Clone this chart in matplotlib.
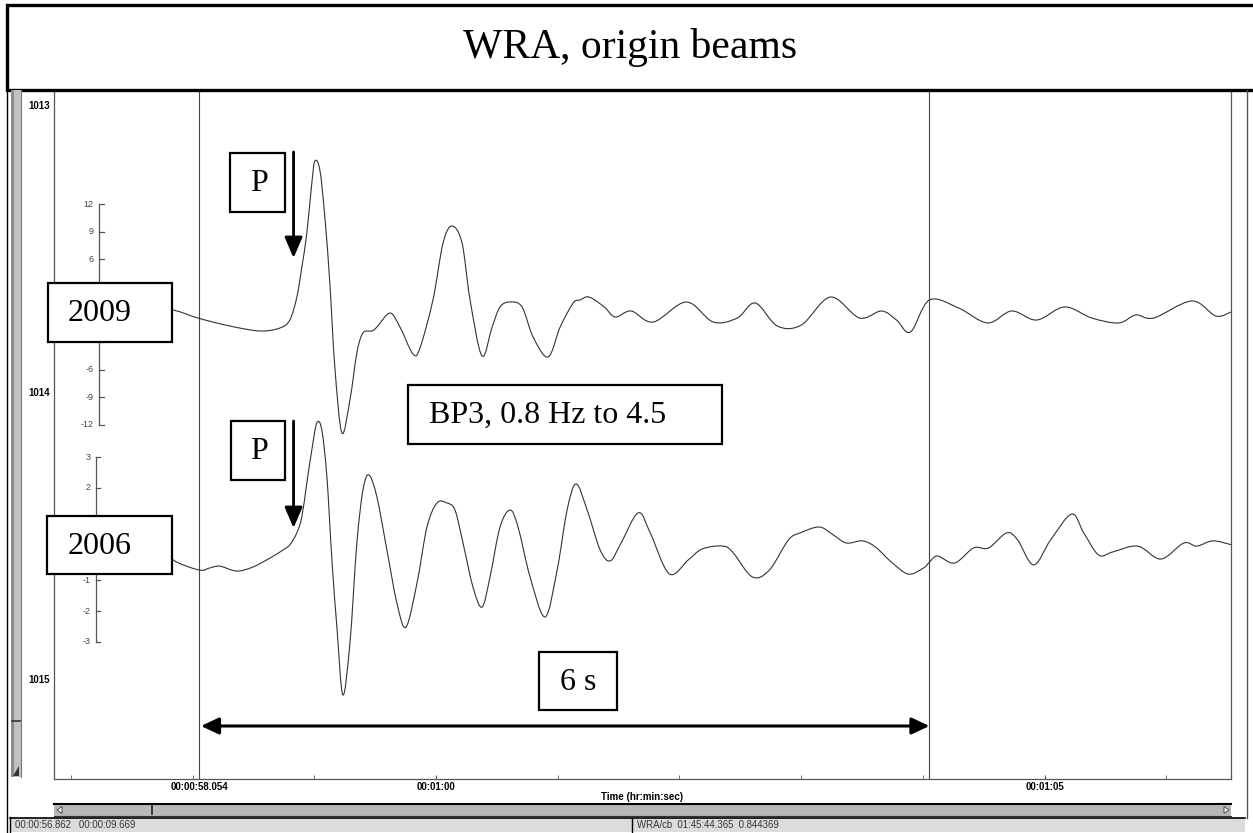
import matplotlib
matplotlib.use('Agg')
import matplotlib.pyplot as plt
from matplotlib.patches import Rectangle, Polygon, PathPatch
from matplotlib.path import Path

W, H = 1253, 833

# ---------------- data ----------------
window_start = 56.862      # s (00:00:56.862)
window_length = 9.669      # s (00:00:09.669)
time_ticks = [58.054, 60.0, 65.0]
time_tick_labels = ['00:00:58.054', '00:01:00', '00:01:05']
minor_ticks = [57, 58, 59, 61, 62, 63, 64, 66]
channel_labels = [1013, 1014, 1015]
marker_times = [58.054, 64.054]
p_time = 58.83

t_2009 = [57.80, 57.895, 58.043, 58.306, 58.553, 58.717, 58.799, 58.857, 58.898, 58.939,
          58.980, 59.005, 59.046, 59.087, 59.128, 59.169, 59.227, 59.293, 59.350, 59.400,
          59.474, 59.515, 59.622, 59.704, 59.811, 59.868, 59.975, 60.058, 60.132, 60.214,
          60.280, 60.378, 60.461, 60.526, 60.609, 60.707, 60.798, 60.921, 61.020, 61.127,
          61.184, 61.258, 61.382, 61.472, 61.604, 61.785, 62.056, 62.278, 62.475, 62.623,
          62.804, 63.002, 63.240, 63.479, 63.660, 63.783, 63.898, 64.054, 64.293, 64.531,
          64.729, 64.934, 65.164, 65.387, 65.609, 65.748, 65.896, 66.209, 66.406, 66.530]
a_2009 = [0.60, 0.30, -0.38, -1.25, -1.79, -1.47, -0.60, 1.90, 5.16, 8.86,
          14.29, 16.68, 15.71, 10.60, 3.42, -5.71, -12.88, -9.29, -4.18, -2.01,
          -1.79, -1.36, 0.16, -1.36, -4.29, -3.64, 1.58, 7.77, 9.62, 7.77,
          1.58, -4.51, -1.36, 0.82, 1.36, 0.82, -2.45, -4.62, -1.36, 1.25,
          1.58, 1.90, 0.82, -0.27, 0.38, -0.82, 1.36, -0.82, -0.38, 1.25,
          -1.25, -1.14, 1.90, -0.38, 0.38, -0.60, -1.90, 1.58, 0.71, -0.92,
          0.38, -0.60, 0.82, -0.38, -0.92, -0.05, -0.38, 1.47, -0.16, 0.27]

t_2006 = [57.796, 57.870, 58.059, 58.141, 58.224, 58.363, 58.495, 58.635, 58.742, 58.799,
          58.857, 58.898, 58.939, 58.980, 59.021, 59.062, 59.104, 59.145, 59.186, 59.235,
          59.293, 59.350, 59.400, 59.449, 59.515, 59.597, 59.679, 59.753, 59.844, 59.926,
          60.008, 60.090, 60.156, 60.222, 60.304, 60.378, 60.444, 60.526, 60.609, 60.674,
          60.773, 60.896, 60.995, 61.077, 61.151, 61.242, 61.349, 61.431, 61.513, 61.661,
          61.760, 61.916, 62.072, 62.188, 62.360, 62.442, 62.599, 62.738, 62.895, 62.993,
          63.150, 63.265, 63.372, 63.503, 63.610, 63.750, 63.882, 64.005, 64.054, 64.120,
          64.260, 64.416, 64.539, 64.688, 64.778, 64.910, 65.049, 65.222, 65.321, 65.444,
          65.559, 65.765, 65.954, 66.143, 66.250, 66.382, 66.538]
a_2006 = [-0.15, -0.41, -0.67, -0.60, -0.54, -0.70, -0.57, -0.28, -0.02, 0.15,
          0.54, 1.06, 2.16, 3.23, 4.11, 3.88, 2.35, -0.34, -2.52, -4.72,
          -3.04, 0.21, 1.93, 2.42, 1.70, -0.02, -1.74, -2.52, -1.09, 0.73,
          1.51, 1.51, 1.28, 0.21, -1.22, -1.87, -0.89, 0.73, 1.28, 0.73,
          -0.89, -2.19, -0.67, 1.28, 2.13, 1.28, -0.02, -0.37, 0.15, 1.19,
          0.54, -0.79, -0.34, 0.02, 0.11, -0.11, -0.89, -0.67, 0.31, 0.54,
          0.73, 0.47, 0.21, 0.28, 0.08, -0.44, -0.80, -0.60, -0.41, -0.21,
          -0.44, 0.05, 0.05, 0.54, 0.31, -0.50, 0.31, 1.15, 0.54, -0.18,
          -0.08, 0.11, -0.31, 0.21, 0.11, 0.28, 0.15]

scale_2009 = [12, 9, 6, 3, 0, -3, -6, -9, -12]
scale_2006 = [3, 2, 1, 0, -1, -2, -3]
# scale labels that sit behind the "2009" / "2006" boxes in the original
hidden_2009 = [3, 0, -3]
hidden_2006 = [1, 0]

# ---------------- layout helpers ----------------
PX_PER_CH = 287.0
PX_PER_S = 121.6


def ch(py):
    return 1013 + (py - 105) / PX_PER_CH


def tx(px):
    return 60 + (px - 436) / PX_PER_S


def frac(x0, y0, x1, y1):
    return [x0 / W, 1 - y1 / H, (x1 - x0) / W, (y1 - y0) / H]


def smooth_path(xs, ys):
    """Smooth (Catmull-Rom style) Bezier path passing through the given points."""
    pts = list(zip(xs, ys))
    verts = [pts[0]]
    codes = [Path.MOVETO]
    n = len(pts)
    for i in range(n - 1):
        p0 = pts[i - 1] if i > 0 else pts[i]
        p1 = pts[i]
        p2 = pts[i + 1]
        p3 = pts[i + 2] if i + 2 < n else pts[i + 1]
        c1 = (p1[0] + (p2[0] - p0[0]) / 6, p1[1] + (p2[1] - p0[1]) / 6)
        c2 = (p2[0] - (p3[0] - p1[0]) / 6, p2[1] - (p3[1] - p1[1]) / 6)
        verts += [c1, c2, p2]
        codes += [Path.CURVE4] * 3
    return Path(verts, codes)


SERIF = ['Liberation Serif', 'DejaVu Serif']
SANS = ['Liberation Sans', 'DejaVu Sans']
UI_FS = 7

fig = plt.figure(figsize=(W / 100, H / 100), dpi=100)
fig.patch.set_facecolor('white')

# ---------------- main axes ----------------
ax = fig.add_axes(frac(54, 90, 1231, 779))
ax.set_xlim(window_start, window_start + window_length)
ax.set_ylim(ch(779), ch(90))
for s in ax.spines.values():
    s.set_color('#555555')
    s.set_linewidth(0.9)
ax.spines['top'].set_visible(False)

ax.set_xticks(time_ticks)
ax.set_xticklabels(time_tick_labels, fontsize=UI_FS, fontweight='bold', family=SANS)
ax.set_xticks(minor_ticks, minor=True)
ax.tick_params(axis='x', which='both', direction='in', length=3, color='#555555', pad=2)
ax.set_xlabel('Time (hr:min:sec)', fontsize=UI_FS, fontweight='bold', family=SANS, labelpad=0)

ax.set_yticks(channel_labels)
ax.set_yticklabels([str(c) for c in channel_labels], fontsize=UI_FS, fontweight='bold', family=SANS)
ax.tick_params(axis='y', length=0, pad=3)

for mt in marker_times:
    ax.axvline(mt, color='#444444', lw=0.8, zorder=1)

base1, k1 = ch(314.5), 9.2 / PX_PER_CH
base2, k2 = ch(549.5), 30.8 / PX_PER_CH
for ts, amps, base, k in [(t_2009, a_2009, base1, k1), (t_2006, a_2006, base2, k2)]:
    ys = [base - a * k for a in amps]
    ax.add_patch(PathPatch(smooth_path(ts, ys), fc='none', ec='#333333', lw=0.8, zorder=2))


def scale_bar(vals, hidden, base, k, xbar, xtick, xlab):
    ys = [base - v * k for v in vals]
    ax.plot([xbar, xbar], [min(ys), max(ys)], color='#555555', lw=0.9, zorder=2)
    for v, y in zip(vals, ys):
        ax.plot([xbar, xtick], [y, y], color='#555555', lw=0.9, zorder=2)
        if v not in hidden:
            ax.text(xlab, y, str(v), ha='right', va='center', fontsize=6.5,
                    color='#444444', family=SANS)


scale_bar(scale_2009, hidden_2009, base1, k1, tx(99), tx(104), tx(94))
scale_bar(scale_2006, hidden_2006, base2, k2, tx(96), tx(100), tx(91))

# arrows
p_style = dict(arrowstyle='-|>,head_length=0.7,head_width=0.3', lw=2,
               color='black', mutation_scale=18, shrinkA=0, shrinkB=0)
ax.annotate('', xy=(p_time, ch(258)), xytext=(p_time, ch(152)), arrowprops=p_style, zorder=4)
ax.annotate('', xy=(p_time, ch(528)), xytext=(p_time, ch(421)), arrowprops=p_style, zorder=4)
ax.annotate('', xy=(marker_times[0] + 0.015, ch(726)), xytext=(marker_times[1], ch(726)),
            arrowprops=dict(arrowstyle='<|-|>,head_length=0.6,head_width=0.28', lw=2.2,
                            color='black', mutation_scale=18, shrinkA=0, shrinkB=0), zorder=4)

# ---------------- overlay (pixel coordinates) ----------------
ov = fig.add_axes([0, 0, 1, 1], zorder=5)
ov.set_xlim(0, W)
ov.set_ylim(H, 0)
ov.axis('off')
ov.patch.set_alpha(0)

# title box
ov.add_patch(Rectangle((7, 5), 1260, 85, fc='white', ec='black', lw=2.4))
ov.text(630, 47, 'WRA, origin beams', ha='center', va='center', fontsize=30, family=SERIF)


def box(x0, y0, x1, y1, text, cx, ha='center', fs=23):
    ov.add_patch(Rectangle((x0, y0), x1 - x0, y1 - y0, fc='white', ec='black', lw=1.6))
    ov.text(cx, (y0 + y1) / 2 + 1, text, ha=ha, va='center', fontsize=fs, family=SERIF)


box(230, 153, 285, 212, 'P', 259)
box(231, 421, 285, 480, 'P', 259)
box(48, 283, 172, 342, '2009', 100)
box(47, 516, 172, 574, '2006', 100)
box(408, 385, 722, 444, 'BP3, 0.8 Hz to 4.5', 429, ha='left')
box(539, 652, 617, 710, '6 s', 578)

# left frame and scrollbar
ov.plot([7, 7], [90, 833], color='black', lw=1.0)
ov.add_patch(Rectangle((11, 90), 10, 687, fc='#c2c2c2', ec='none'))
ov.add_patch(Rectangle((11, 90), 3, 687, fc='#8c8c8c', ec='none'))
ov.plot([21, 21], [90, 777], color='#777777', lw=0.8)
ov.plot([12, 20], [721, 721], color='#333333', lw=1.2)
ov.add_patch(Polygon([[13, 776], [19, 766], [19, 776]], closed=True, fc='#333333', ec='none'))

# right frame
ov.plot([1247, 1247], [90, 818], color='#555555', lw=1.0)

# bottom scrollbar
ov.add_patch(Rectangle((54, 804), 1177, 12, fc='#b8b8b8', ec='none'))
ov.plot([54, 1231], [804, 804], color='black', lw=1.5)
ov.plot([54, 1231], [816, 816], color='#333333', lw=0.8)
ov.add_patch(Polygon([[57, 810], [62, 806.5], [62, 813.5]], closed=True, fc='white', ec='#333333', lw=0.6))
ov.plot([152, 152], [806, 814], color='#222222', lw=1.2)
ov.add_patch(Polygon([[1229, 810], [1224, 806.5], [1224, 813.5]], closed=True, fc='white', ec='#333333', lw=0.6))

# status bar
ov.add_patch(Rectangle((10, 818), 1235, 14, fc='#dcdcdc', ec='none'))
ov.plot([10, 1245], [817.5, 817.5], color='black', lw=1.2)
ov.plot([10, 10], [817, 833], color='black', lw=1.0)
ov.plot([632, 632], [818, 833], color='black', lw=1.0)
ov.text(15, 825.5, '00:00:56.862   00:00:09.669', ha='left', va='center', fontsize=6.9,
        color='#333333', family=SANS)
ov.text(637, 825.5, 'WRA/cb  01:45:44.365  0.844369', ha='left', va='center', fontsize=6.9,
        color='#333333', family=SANS)

fig.savefig('out.png', dpi=100)
